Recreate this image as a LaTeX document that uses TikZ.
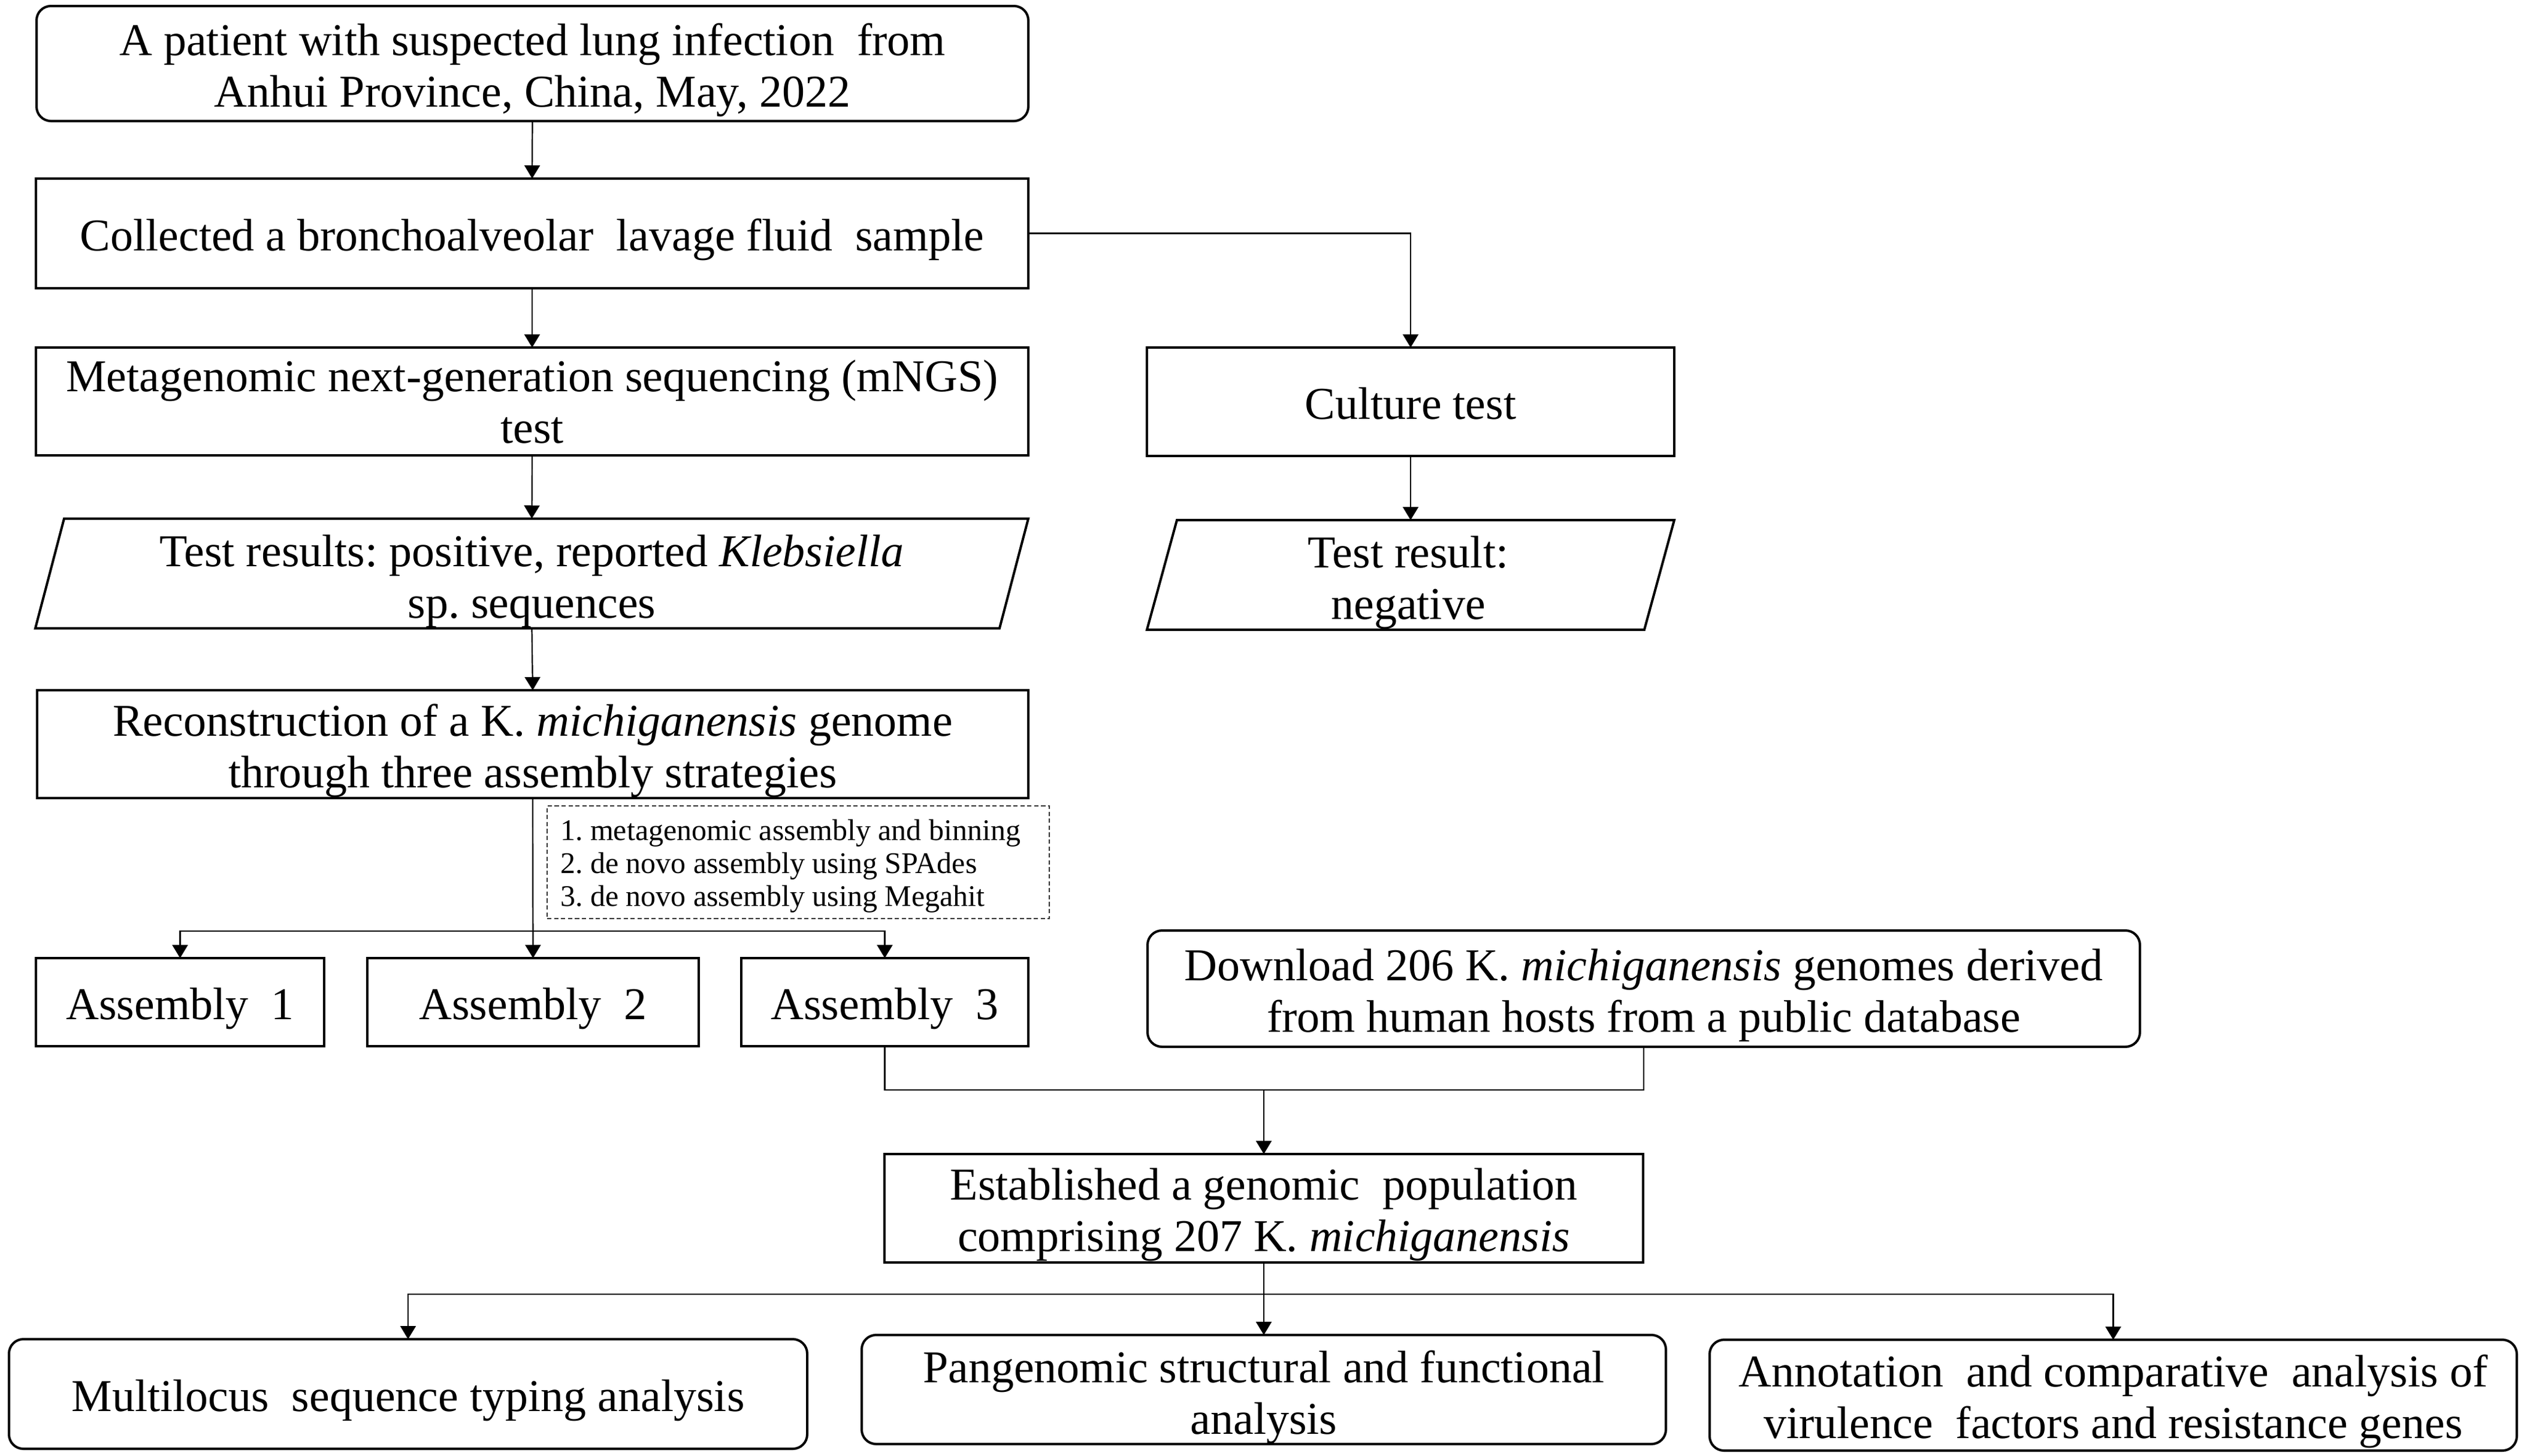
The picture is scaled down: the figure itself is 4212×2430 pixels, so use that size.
\documentclass[tikz,border=0pt]{standalone}
\usepackage{fontspec}
\setmainfont{Liberation Serif}
\usetikzlibrary{arrows.meta}
\begin{document}
\frenchspacing
\begin{tikzpicture}[x=0.25pt,y=-0.25pt]
\tikzset{
  txtbase/.style={font=\fontsize{19pt}{21.5pt}\selectfont, align=center, inner sep=0pt, outer sep=0pt},
  rbox/.style={draw, rectangle, line width=1pt, inner sep=0pt, outer sep=0pt},
  rrbox/.style={rbox, rounded corners=6pt},
  nobox/.style={inner sep=0pt, outer sep=0pt},
  sz/.style 2 args={minimum width={#1*0.25pt}, minimum height={#2*0.25pt}},
  cline/.style={line width=0.55pt},
  carrow/.style={cline, -{Triangle[length=5.5pt,width=6.5pt]}},
  pgframe/.style={line width=1pt},
}
\useasboundingbox (0,0) rectangle (4212,2430);

% left column
\node[rrbox, sz={1655}{192}] (b1) at (888.5,106) {};
\node[txtbase] (b1t) at ([yshift=-2.7pt]b1.center) {A patient with suspected lung infection\ \ from\\Anhui Province, China, May, 2022};
\node[rbox, sz={1656}{183}] (b2) at (888,389.5) {};
\node[txtbase] (b2t) at ([yshift=-2.7pt]b2.center) {Collected a bronchoalveolar\ \ lavage fluid\ \ sample};
\node[rbox, sz={1656}{180}] (b3) at (888,670) {};
\node[txtbase] (b3t) at (b3.center) {Metagenomic next-generation sequencing (mNGS)\\test};
\node[nobox, sz={1657}{183}] (p1) at (887.5,957) {};
\draw[pgframe] ([xshift=12pt]p1.north west) -- (p1.north east) -- ([xshift=-12pt]p1.south east) -- (p1.south west) -- cycle;
\node[txtbase] (p1t) at ([yshift=-3.3pt]p1.center) {Test results: positive, reported \textit{Klebsiella}\\sp. sequences};
\node[rbox, sz={1654}{180}] (b5) at (889,1242) {};
\node[txtbase] (b5t) at ([yshift=-2.7pt]b5.center) {Reconstruction\ of a K. \textit{michiganensis} genome\\through three assembly strategies};
\node[draw=black!80, dash pattern=on 1.8pt off 1.1pt, line width=0.5pt, sz={838}{188}, nobox] (notes) at (1332,1439) {};
\node[nobox, font=\fontsize{12.5pt}{13.75pt}\selectfont, align=left, anchor=west] (notest) at ([xshift=5.5pt,yshift=-1.7pt]notes.west) {1. metagenomic assembly\ and binning\\2. de novo assembly using SPAdes\\3. de novo assembly using Megahit};

\node[rbox, sz={481}{147}] (a1) at (300.5,1672.5) {};
\node[txtbase] (a1t) at ([yshift=-2.7pt]a1.center) {Assembly\ \ 1};
\node[rbox, sz={553}{147}] (a2) at (889.5,1672.5) {};
\node[txtbase] (a2t) at ([yshift=-2.7pt]a2.center) {Assembly\ \ 2};
\node[rbox, sz={479}{147}] (a3) at (1476.5,1672.5) {};
\node[txtbase] (a3t) at ([yshift=-2.7pt]a3.center) {Assembly\ \ 3};

% right column
\node[rbox, sz={880}{181}] (cult) at (2354,670.5) {};
\node[txtbase] (cultt) at ([yshift=-0.7pt]cult.center) {Culture test};
\node[nobox, sz={880}{183}] (p2) at (2354,959.5) {};
\draw[pgframe] ([xshift=12.5pt]p2.north west) -- (p2.north east) -- ([xshift=-12.5pt]p2.south east) -- (p2.south west) -- cycle;
\node[txtbase] (p2t) at ([yshift=-3.3pt,xshift=-1pt]p2.center) {Test result:\\negative};

\node[rrbox, sz={1656}{194}] (dl) at (2743,1650) {};
\node[txtbase] (dlt) at ([yshift=-2.7pt]dl.center) {Download 206 K. \textit{michiganensis} genomes derived\\from human hosts from a public database};
\node[rbox, sz={1266}{181}] (est) at (2109,2016.5) {};
\node[txtbase] (estt) at ([yshift=-2.7pt]est.center) {Established a genomic\ \ population\\comprising 207 K. \textit{michiganensis}};

% bottom row
\node[rrbox, sz={1332}{183}] (mlst) at (681,2326.5) {};
\node[txtbase] (mlstt) at ([yshift=-2.7pt]mlst.center) {Multilocus\ \ sequence typing analysis};
\node[rrbox, sz={1342}{182}] (pan) at (2109,2319) {};
\node[txtbase] (pant) at ([yshift=-3.3pt]pan.center) {Pangenomic structural and functional\\analysis};
\node[rrbox, sz={1347}{185}] (ann) at (3526.5,2328.5) {};
\node[txtbase] (annt) at ([yshift=-2.7pt]ann.center) {Annotation\ \ and comparative\ \ analysis of\\virulence\ \ factors and resistance genes};

% connectors
\draw[carrow] (b1.south) -- (b2.north);
\draw[carrow] (b2.south) -- (b3.north);
\draw[carrow] (b2.east) -| (cult.north);
\draw[carrow] (b3.south) -- (p1.north);
\draw[carrow] (p1.south) -- (b5.north);
\draw[carrow] (cult.south) -- (p2.north);

\coordinate (s1) at (889,1554);
\draw[carrow] (b5.south) -- (a2.north);
\draw[carrow] (s1) -| (a1.north);
\draw[carrow] (s1) -| (a3.north);

\coordinate (m1) at (2109,1819);
\draw[cline] (a3.south) |- (m1) -| (dl.south);
\draw[carrow] (m1) -- (est.north);

\coordinate (s2) at (2109,2160);
\draw[carrow] (est.south) -- (pan.north);
\draw[carrow] (s2) -| (mlst.north);
\draw[carrow] (s2) -| (ann.north);
\end{tikzpicture}
\end{document}
